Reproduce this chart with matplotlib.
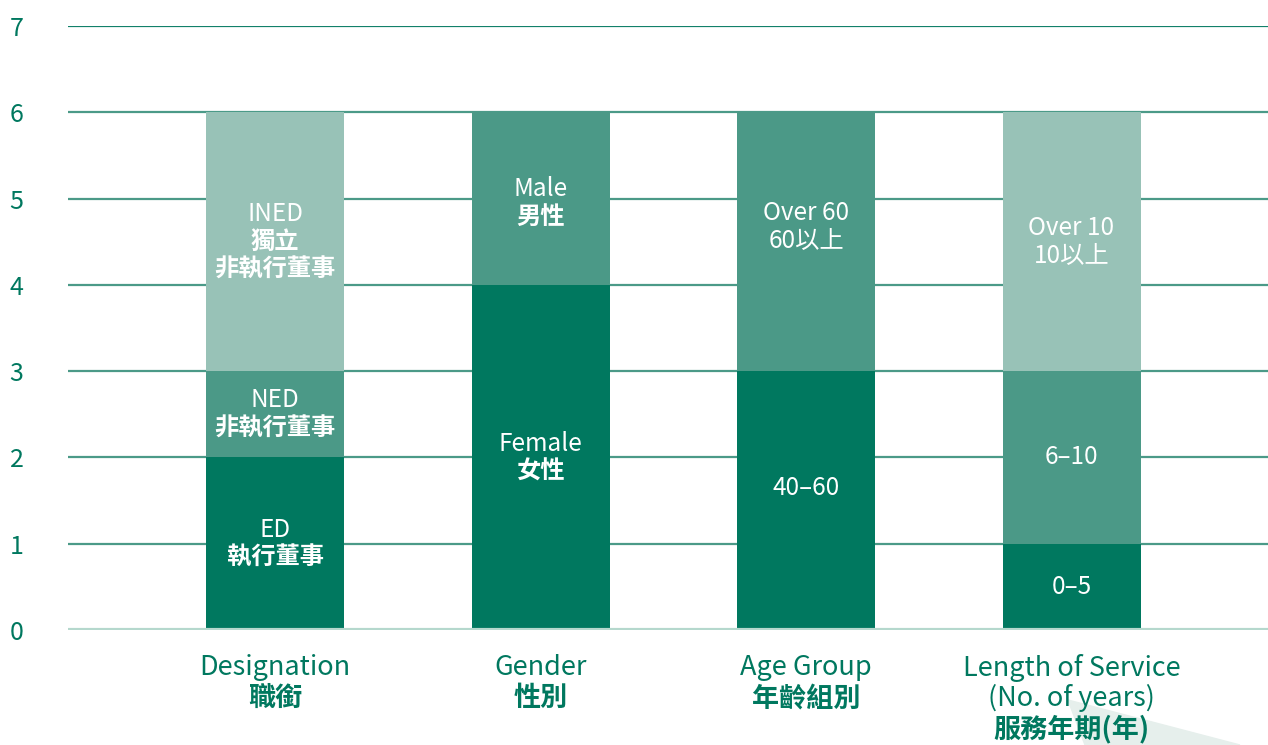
import matplotlib
matplotlib.use("Agg")
import matplotlib.pyplot as plt
from matplotlib.patches import Polygon

plt.rcParams['font.family'] = ['Noto Sans CJK TC', 'DejaVu Sans']

DARK = '#00785f'
MID = '#4b9987'
LIGHT = '#98c2b7'

groups = ['Designation', 'Gender', 'Age Group', 'Length of Service']
group_labels = [
    [('Designation', 'medium'), ('職銜', 'bold')],
    [('Gender', 'medium'), ('性別', 'bold')],
    [('Age Group', 'medium'), ('年齡組別', 'bold')],
    [('Length of Service', 'medium'), ('(No. of years)', 'medium'), ('服務年期(年)', 'bold')],
]

# stacked segments per group, bottom to top
seg_values = [
    [2, 1, 3],
    [4, 2],
    [3, 3],
    [1, 2, 3],
]
seg_colors = [
    [DARK, MID, LIGHT],
    [DARK, MID],
    [DARK, MID],
    [DARK, MID, LIGHT],
]
seg_labels = [
    [[('ED', 'normal'), ('執行董事', 'bold')],
     [('NED', 'normal'), ('非執行董事', 'bold')],
     [('INED', 'normal'), ('獨立', 'bold'), ('非執行董事', 'bold')]],
    [[('Female', 'normal'), ('女性', 'bold')],
     [('Male', 'normal'), ('男性', 'bold')]],
    [[('40–60', 'normal')],
     [('Over 60', 'normal'), ('60以上', 'normal')]],
    [[('0–5', 'normal')],
     [('6–10', 'normal')],
     [('Over 10', 'normal'), ('10以上', 'normal')]],
]
# label centre heights (data units)
label_y = [
    [1.0, 2.5, 4.5],
    [2.0, 4.95],
    [1.65, 4.67],
    [0.5, 2.0, 4.5],
]

fig = plt.figure(figsize=(12.68, 7.45), dpi=100)

# decorative corner shape, behind everything
tri = Polygon([(1068 / 1268, 1 - 700 / 745), (1240 / 1268, 0), (1085 / 1268, 0)],
              closed=True, transform=fig.transFigure, color='#e6efec', zorder=-5)
fig.patches.append(tri)

ax = fig.add_axes([68 / 1268, 115 / 745, 1200 / 1268, 604 / 745])
ax.patch.set_alpha(0)

ax.set_xlim(-0.78, 3.74)
ax.set_ylim(0, 7)

for yv in range(1, 7):
    ax.axhline(yv, color='#4b9a88', lw=1.6, zorder=1)
ax.axhline(7, color='#12806a', lw=1.6, zorder=1)
ax.axhline(0, color='#b5d8cd', lw=3, zorder=3)

LINE_PT = 20
for i in range(len(groups)):
    bottom = 0
    for v, c, lab, ly in zip(seg_values[i], seg_colors[i], seg_labels[i], label_y[i]):
        ax.bar(i, v, bottom=bottom, width=0.52, color=c, zorder=2)
        bottom += v
        n = len(lab)
        for k, (txt, w) in enumerate(lab):
            off = ((n - 1) / 2 - k) * LINE_PT
            ax.annotate(txt, (i, ly), xytext=(0, off), textcoords='offset points',
                        ha='center', va='center', color='white', fontsize=17.5,
                        fontweight=w, zorder=4)

    for k, (txt, w) in enumerate(group_labels[i]):
        ax.annotate(txt, (i, 0), xytext=(0, -27 - k * 22), textcoords='offset points',
                    ha='center', va='center', color=DARK, fontsize=19.5,
                    fontweight=w, annotation_clip=False, zorder=5)

ax.set_yticks(range(8))
ax.set_yticklabels([str(v) for v in range(8)])
ax.set_xticks([])
for s in ax.spines.values():
    s.set_visible(False)
ax.tick_params(axis='y', length=0, pad=42, labelsize=18, labelcolor=DARK)
for t in ax.get_yticklabels():
    t.set_horizontalalignment('left')

fig.savefig('out.png', dpi=100)
